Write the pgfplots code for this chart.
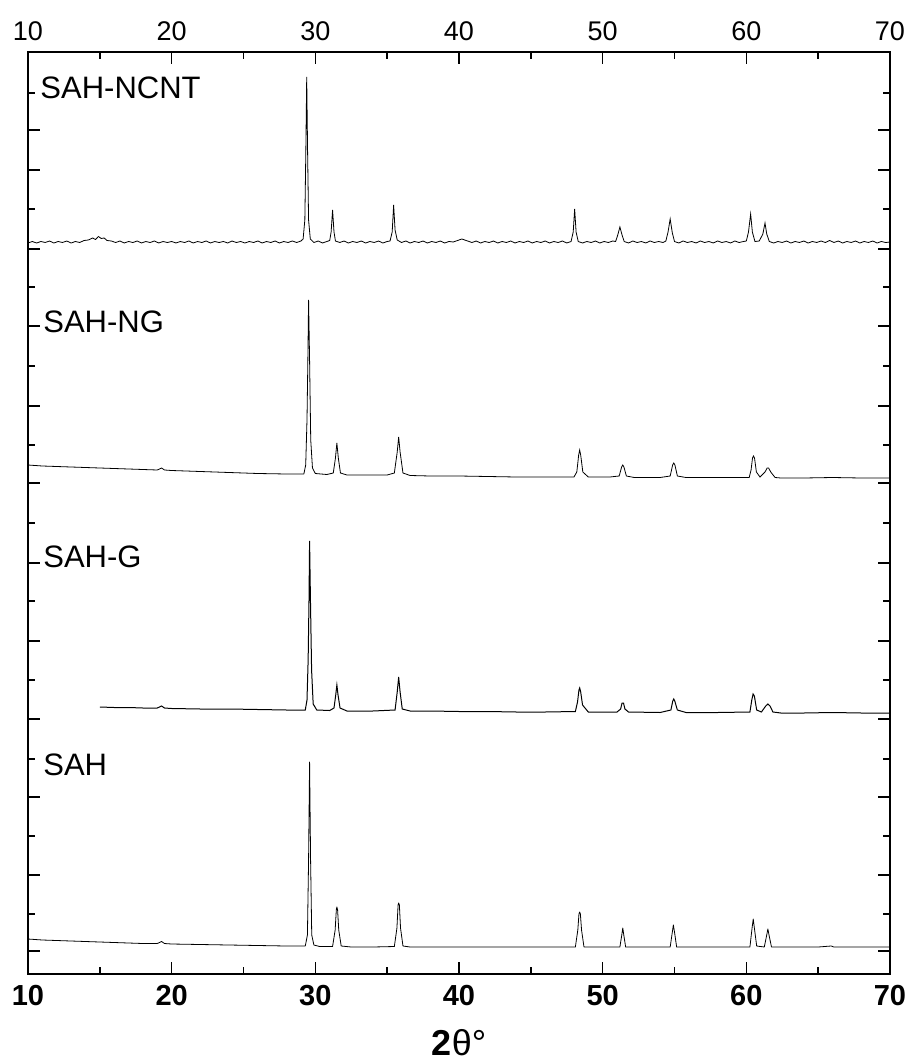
\documentclass[border=0pt]{standalone}
\usepackage{fontspec}
\setmainfont{Liberation Sans}
\usepackage{pgfplots}
\pgfplotsset{compat=1.18}
\begin{document}
\begin{tikzpicture}
\begin{axis}[name=ax, at={(0,0)}, anchor=south west, scale only axis,
  width=431pt, height=461pt,
  xmin=10, xmax=70, ymin=52, ymax=974, y dir=reverse,
  axis line style={line width=1.2pt},
  xtick={10,20,...,70}, minor xtick={15,25,...,65},
  xtick pos=both, xticklabel pos=lower,
  ytick pos=both, yticklabels={},
  ytick={130,170,249,326,406,483,563,641,719,797,875,951},
  minor ytick={93,209,287,366,445,523,601,680,759,836,914},
  tick align=inside, major tick length=6pt, minor tick length=3.5pt,
  every tick/.style={line width=0.8pt, black},
  /pgf/number format/assume math mode=true,
  xticklabel style={font=\fontsize{14.5}{16}\selectfont\bfseries, yshift=-2pt},
  xlabel={\fontsize{18}{21}\selectfont\textbf{2}θ°},
  xlabel style={at={(axis description cs:0.5,-0.074)}, anchor=center},
  cycle list={{black, no markers, line width=0.5pt, line join=round}},
]
% SAH-NCNT
\addplot coordinates {(10,243) (10.3,241.5) (10.6,243) (10.9,241.5) (11.2,242.5) (11.5,241) (11.8,243) (12.1,241.5) (12.4,242.5) (12.7,241) (13,243) (13.3,241.5) (13.6,242.5) (13.9,240.5) (14.2,240) (14.5,238) (14.7,239.5) (14.9,236.5) (15.1,238.5) (15.3,238) (15.5,240.5) (15.8,241) (16.1,242.5) (16.4,241) (16.7,243) (17,241.5) (17.3,242.5) (17.6,241) (17.9,243) (18.2,241.5) (18.5,242.5) (18.8,241) (19.1,243) (19.4,241.5) (19.7,242.5) (20,241.5) (20.3,243) (20.6,241.5) (20.9,242.5) (21.2,241) (21.5,243) (21.8,241.5) (22.1,242.5) (22.4,241) (22.7,243) (23,241.5) (23.3,242.5) (23.6,241.5) (23.9,243) (24.2,241) (24.5,242.5) (24.8,241.5) (25.1,243) (25.4,241.5) (25.7,242.5) (26,241) (26.3,243) (26.6,241.5) (26.9,242.5) (27.2,241) (27.5,243) (27.8,241.5) (28.1,242.5) (28.4,241) (28.7,242.5) (29,241) (29.15,239) (29.27,220) (29.34,150) (29.4,77) (29.46,150) (29.53,220) (29.65,239) (29.9,242.5) (30.2,241) (30.5,243) (30.8,241.5) (31.0,240.5) (31.1,232) (31.2,210) (31.3,232) (31.4,241) (31.7,242.5) (32,241) (32.3,243) (32.6,241.5) (32.9,242.5) (33.2,241) (33.5,243) (33.8,241.5) (34.1,242.5) (34.4,241) (34.7,243) (35,241.5) (35.2,241) (35.35,232) (35.45,205) (35.55,230) (35.7,240) (36,242.5) (36.3,241) (36.6,243) (36.9,241.5) (37.2,242.5) (37.5,241) (37.8,243) (38.1,241.5) (38.4,242.5) (38.7,241) (39,243) (39.3,241.5) (39.6,242) (39.9,240.5) (40.2,239) (40.4,240) (40.6,241) (40.9,242.5) (41.2,241) (41.5,243) (41.8,241.5) (42.1,242.5) (42.4,241) (42.7,243) (43,241.5) (43.3,242.5) (43.6,241) (43.9,243) (44.2,241.5) (44.5,242.5) (44.8,241) (45.1,243) (45.4,241.5) (45.7,242.5) (46,241) (46.3,243) (46.6,241.5) (46.9,242.5) (47.2,241) (47.5,243) (47.8,241.5) (47.95,232) (48.05,209) (48.15,232) (48.3,241.5) (48.6,243) (48.9,241.5) (49.2,242.5) (49.5,241) (49.8,243) (50.1,241.5) (50.4,242.5) (50.7,241) (50.9,241.5) (51.05,235) (51.2,227) (51.35,235) (51.5,241.5) (51.8,243) (52.1,241) (52.4,242.5) (52.7,241.5) (53,243) (53.3,241) (53.6,242.5) (53.9,241.5) (54.2,242.5) (54.4,241) (54.55,232) (54.7,219) (54.85,233) (55,241.5) (55.3,243) (55.6,241) (55.9,242.5) (56.2,241.5) (56.5,243) (56.8,241) (57.1,242.5) (57.4,241.5) (57.7,243) (58,241) (58.3,242.5) (58.6,241.5) (58.9,243) (59.2,241) (59.5,242.5) (59.8,241.5) (60,241) (60.15,232) (60.3,214) (60.42,232) (60.6,241.5) (60.9,241) (61.15,234) (61.3,223) (61.42,234) (61.6,241.5) (61.9,243) (62.2,241.5) (62.5,242.5) (62.8,241) (63.1,243) (63.4,241.5) (63.7,242.5) (64,241) (64.3,243) (64.6,241.5) (64.9,242.5) (65.2,241) (65.5,242.5) (65.8,240.5) (66.1,242.5) (66.4,241) (66.7,243) (67,241.5) (67.3,242.5) (67.6,241) (67.9,243) (68.2,241.5) (68.5,242.5) (68.8,241) (69.1,243) (69.4,241.5) (69.7,242.5) (70,242)};
% SAH-NG
\addplot coordinates {(10,465) (11,466) (12,466.5) (13,467) (14,467.5) (15,468) (16,468.5) (17,469) (18,469.5) (19,470) (19.3,468) (19.5,470) (20,470.5) (22,471.5) (24,472.5) (26,473.5) (28,474) (29.2,474) (29.33,465) (29.42,420) (29.48,360) (29.53,300) (29.6,360) (29.68,440) (29.8,468) (30,473.5) (30.8,474.5) (31.25,473) (31.4,458) (31.5,443) (31.6,458) (31.75,473) (32.2,475) (33,475) (34,475) (35,475) (35.5,473) (35.7,452) (35.8,437) (35.9,452) (36.1,473) (36.6,475.5) (38,476) (40,476) (42,476.5) (44,477) (46,477) (48,477) (48.2,472) (48.33,455) (48.4,450) (48.47,455) (48.62,472) (49,477) (50.5,477) (51.15,476) (51.32,467) (51.4,465) (51.48,467) (51.65,476) (52.2,477.5) (54,477.5) (54.7,476) (54.87,465) (54.95,463) (55.03,465) (55.2,476) (55.8,477.5) (58,477.5) (60.2,477.5) (60.33,470) (60.43,458) (60.5,456) (60.57,458) (60.7,472) (60.95,477) (61.3,472) (61.45,468) (61.55,468) (61.7,472) (62,477.5) (62.4,478) (64,478) (66,477.5) (68,478) (70,478)};
% SAH-G
\addplot coordinates {(15,707) (16,707.5) (17,707.5) (18,708) (19,708) (19.3,706) (19.5,708) (20,708.5) (22,709) (24,709) (26,709.5) (28,710) (29.3,710) (29.42,700) (29.5,660) (29.56,600) (29.6,541) (29.66,600) (29.74,670) (29.85,704) (30.1,710) (31,710.5) (31.3,708) (31.42,695) (31.5,685) (31.58,695) (31.72,708) (32.2,711) (34,711) (35.55,710) (35.7,692) (35.8,677) (35.9,692) (36.05,709) (36.6,711) (38,711) (40,711.5) (42,711.5) (44,712) (46,712) (48.1,711.5) (48.25,702) (48.35,690) (48.4,688) (48.47,692) (48.6,705) (49,712) (51,712) (51.25,709) (51.35,703) (51.45,703) (51.55,709) (51.8,712) (54,712.5) (54.75,710) (54.88,701) (54.95,699) (55.02,701) (55.2,710) (55.8,712.5) (58,712.5) (60.25,712) (60.38,700) (60.47,694) (60.56,696) (60.72,710) (61.05,712) (61.35,706) (61.5,704) (61.65,706) (61.85,712) (62.4,713) (64,713) (66,712.5) (68,713) (70,713)};
% SAH
\addplot coordinates {(10,939) (11,940) (12,940.5) (13,941) (14,941.5) (15,942) (16,942.5) (17,943) (18,943.5) (19,943.5) (19.3,941.5) (19.5,943.5) (20,944) (22,944.5) (24,945) (26,945.5) (28,946) (29.3,946) (29.45,935) (29.53,860) (29.6,762) (29.67,860) (29.75,935) (29.9,945) (30.3,946.5) (31.2,946.5) (31.38,930) (31.46,910) (31.5,907) (31.55,910) (31.63,930) (31.8,946) (32.5,947) (34,947) (35.5,946.5) (35.68,928) (35.76,905) (35.8,903) (35.85,905) (35.93,928) (36.1,946) (36.6,947) (38,947) (40,947) (42,947) (44,947) (46,947) (48.1,947) (48.27,930) (48.35,914) (48.4,912) (48.45,914) (48.53,930) (48.7,947) (50,947) (51.2,947) (51.33,935) (51.4,928) (51.47,935) (51.6,947) (53,947) (54.7,947) (54.85,932) (54.92,925) (55,932) (55.15,947) (57,947) (60.25,947) (60.4,928) (60.48,919) (60.56,928) (60.72,946) (61.25,947) (61.42,935) (61.5,929) (61.58,935) (61.75,947) (63,947) (65,947) (65.9,946) (66.1,947) (68,947) (70,947)};
\node[anchor=west, inner sep=0pt, font=\fontsize{15.5}{18}\selectfont] at (axis cs:10.84,88) {SAH-NCNT};
\node[anchor=west, inner sep=0pt, font=\fontsize{15.5}{18}\selectfont] at (axis cs:11.04,322) {SAH-NG};
\node[anchor=west, inner sep=0pt, font=\fontsize{15.5}{18}\selectfont] at (axis cs:11.04,557) {SAH-G};
\node[anchor=west, inner sep=0pt, font=\fontsize{15.5}{18}\selectfont] at (axis cs:11.04,765) {SAH};
\end{axis}
\begin{axis}[at={(0,0)}, anchor=south west, scale only axis,
  width=431pt, height=461pt,
  xmin=10, xmax=70, ymin=52, ymax=974,
  axis x line*=top, axis y line=none,
  axis line style={line width=1.2pt, -},
  xtick={10,20,...,70}, minor xtick={15,25,...,65},
  tick align=inside, major tick length=5.5pt, minor tick length=3pt,
  every tick/.style={line width=0.8pt, black},
  /pgf/number format/assume math mode=true,
  xticklabel style={font=\fontsize{13.5}{15}\selectfont, yshift=2pt},
]
\end{axis}
\pgfresetboundingbox
\path[use as bounding box] (-14pt,-45pt) rectangle (441pt,487pt);
\end{tikzpicture}
\end{document}
